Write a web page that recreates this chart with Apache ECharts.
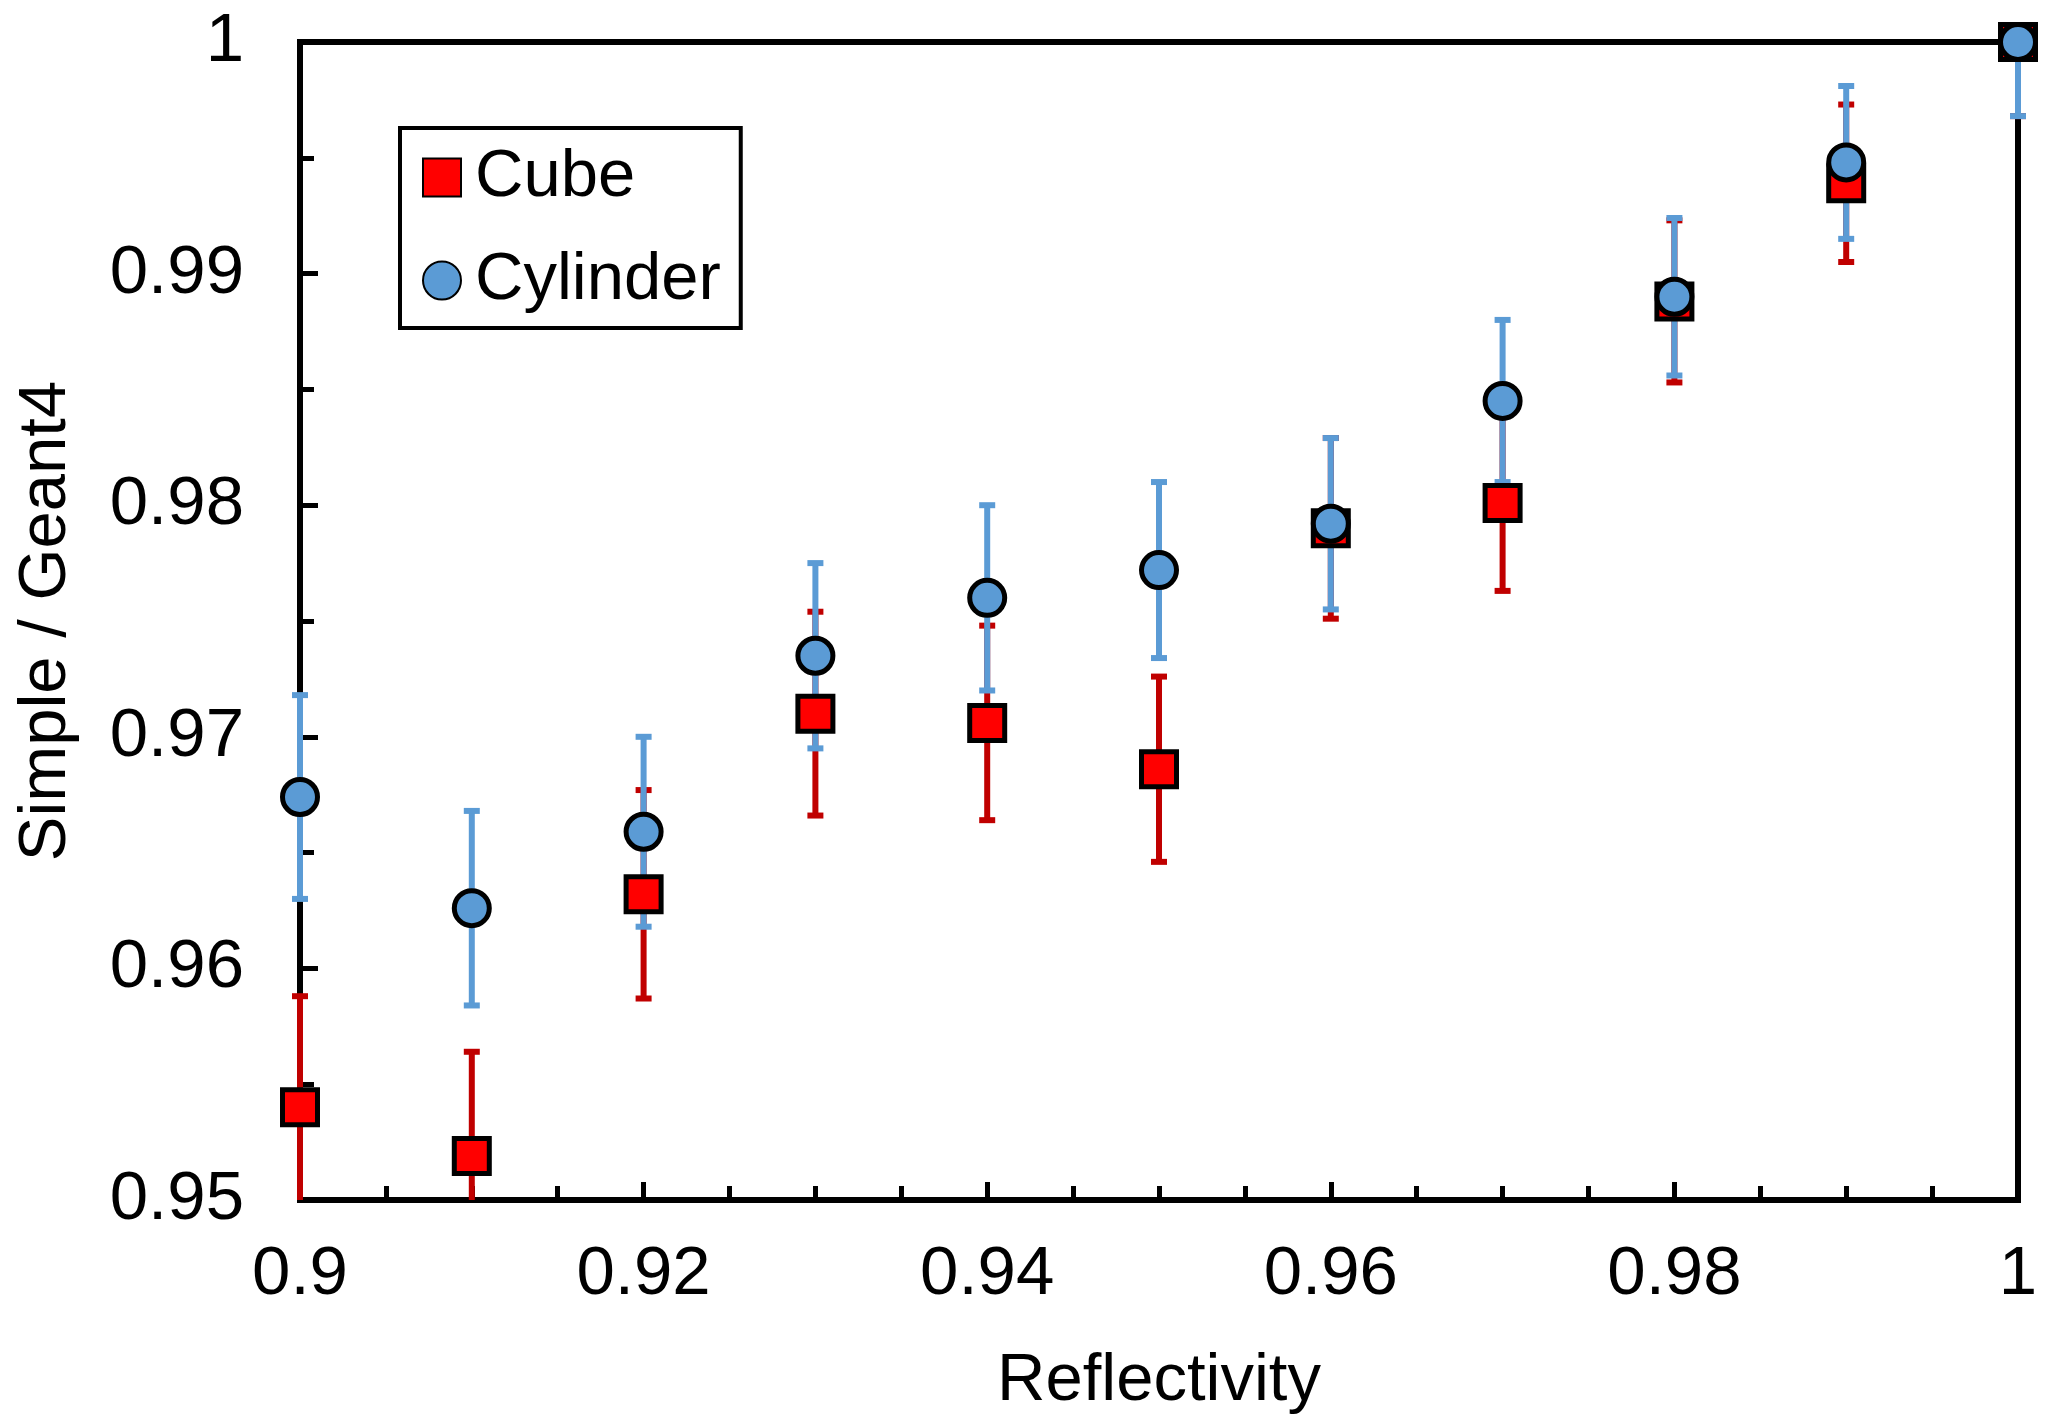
<!DOCTYPE html>
<html>
<head>
<meta charset="utf-8">
<script src="https://cdn.jsdelivr.net/npm/echarts@6/dist/echarts.min.js"></script>
<style>
  html, body { margin: 0; padding: 0; background: #fff; }
  #chart { width: 2054px; height: 1428px; }
</style>
</head>
<body>
<div id="chart"></div>
<script>
// reflectivity values on the x axis
const reflectivity = [0.90, 0.91, 0.92, 0.93, 0.94, 0.95, 0.96, 0.97, 0.98, 0.99, 1.00];
// ratio Simple / Geant4 and its error
const cube = [0.9540, 0.9519, 0.9632, 0.9710, 0.9706, 0.9686, 0.9790, 0.9801, 0.9888, 0.9939, 1.0000];
const cubeErr = [0.0048, 0.0045, 0.0045, 0.0044, 0.0042, 0.0040, 0.0039, 0.0038, 0.0035, 0.0034, 0.0032];
const cylinder = [0.9674, 0.9626, 0.9659, 0.9735, 0.9760, 0.9772, 0.9792, 0.9845, 0.9890, 0.9948, 1.0000];
const cylinderErr = [0.0044, 0.0042, 0.0041, 0.0040, 0.0040, 0.0038, 0.0037, 0.0035, 0.0034, 0.0033, 0.0032];

const yMin = 0.95, yMax = 1;
const font = 'Liberation Sans, Arial, Helvetica, sans-serif';

const chart = echarts.init(document.getElementById('chart'));

function errorBars(color) {
  return function (params, api) {
    const x = api.value(0), y = api.value(1), e = api.value(2);
    const hi = Math.min(y + e, yMax), lo = Math.max(y - e, yMin);
    const top = api.coord([x, hi]);
    const bot = api.coord([x, lo]);
    const style = { stroke: color, lineWidth: 6 };
    const children = [
      { type: 'line', shape: { x1: top[0], y1: top[1], x2: bot[0], y2: bot[1] }, style: style }
    ];
    if (y + e <= yMax) {
      children.push({ type: 'line', shape: { x1: top[0] - 8, y1: top[1], x2: top[0] + 8, y2: top[1] }, style: style });
    }
    if (y - e >= yMin) {
      children.push({ type: 'line', shape: { x1: bot[0] - 8, y1: bot[1], x2: bot[0] + 8, y2: bot[1] }, style: style });
    }
    return { type: 'group', children: children };
  };
}

const zip = (v, e) => reflectivity.map((x, i) => e ? [x, v[i], e[i]] : [x, v[i]]);

chart.setOption({
  animation: false,
  textStyle: { fontFamily: font },
  grid: {
    left: 300, right: 36, top: 42, bottom: 228,
    show: true, borderColor: '#000', borderWidth: 6
  },
  legend: {
    data: ['Cube', 'Cylinder'],
    orient: 'vertical',
    left: 400, top: 128,
    padding: [16, 20, 14, 22],
    itemGap: 36,
    itemWidth: 38, itemHeight: 38,
    backgroundColor: '#fff',
    borderColor: '#000', borderWidth: 4,
    textStyle: { fontSize: 67, color: '#000', lineHeight: 67, padding: [0, 0, 0, 9] }
  },
  xAxis: {
    type: 'value',
    min: 0.9, max: 1, interval: 0.02,
    name: 'Reflectivity', nameLocation: 'middle', nameGap: 148,
    nameTextStyle: { fontSize: 67, color: '#000' },
    axisLine: { lineStyle: { color: '#000', width: 6 } },
    axisTick: { inside: true, length: 18, lineStyle: { color: '#000', width: 5 } },
    minorTick: { show: true, splitNumber: 4, length: 14, lineStyle: { color: '#000', width: 5 } },
    axisLabel: { fontSize: 69, color: '#000', margin: 40 },
    splitLine: { show: false }
  },
  yAxis: {
    type: 'value',
    min: yMin, max: yMax, interval: 0.01,
    name: 'Simple / Geant4', nameLocation: 'middle', nameGap: 220,
    nameTextStyle: { fontSize: 67, color: '#000' },
    axisLine: { lineStyle: { color: '#000', width: 6 } },
    axisTick: { inside: true, length: 18, lineStyle: { color: '#000', width: 5 } },
    minorTick: { show: true, splitNumber: 2, length: 14, lineStyle: { color: '#000', width: 5 } },
    axisLabel: { fontSize: 69, color: '#000', margin: 56 },
    splitLine: { show: false }
  },
  series: [
    {
      type: 'custom', name: 'Cube error', clip: false,
      renderItem: errorBars('#c00000'),
      data: zip(cube, cubeErr)
    },
    {
      type: 'custom', name: 'Cylinder error', clip: false,
      renderItem: errorBars('#5b9bd5'),
      data: zip(cylinder, cylinderErr)
    },
    {
      type: 'scatter', name: 'Cube', symbol: 'rect', symbolSize: 35,
      itemStyle: { color: '#ff0000', borderColor: '#000', borderWidth: 5, opacity: 1 },
      data: zip(cube)
    },
    {
      type: 'scatter', name: 'Cylinder', symbol: 'circle', symbolSize: 35,
      itemStyle: { color: '#5b9bd5', borderColor: '#000', borderWidth: 5, opacity: 1 },
      data: zip(cylinder)
    }
  ]
});
</script>
</body>
</html>
